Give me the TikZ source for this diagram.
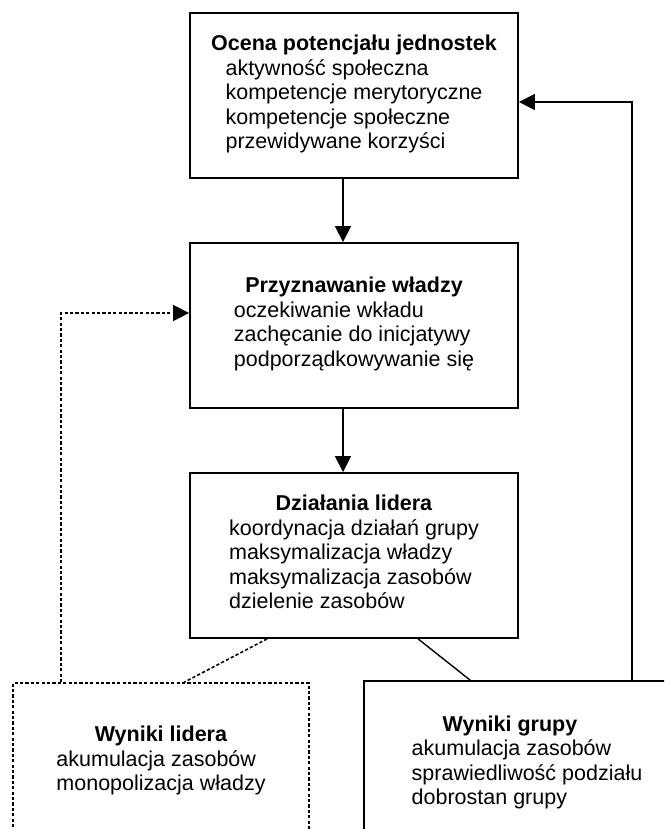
\documentclass[tikz,border=0pt]{standalone}
\usepackage{fontspec}
\setmainfont{Liberation Sans}
\usetikzlibrary{arrows.meta,calc}

\begin{document}
\begin{tikzpicture}[x=0.5pt,y=-0.5pt,
		box/.style={draw, line width=0.9pt, rectangle, inner sep=0pt, align=center,
			font=\fontsize{10.75}{12.25}\selectfont},
		arr/.style={line width=0.7pt, -{Triangle[length=8pt,width=8pt]}},
		dots/.style={line width=0.8pt, dash pattern=on 1.6pt off 1.1pt}]

		\useasboundingbox (0,0) rectangle (664,829);
		\clip (0,0) rectangle (664,829);

		% boxes
		\node[box, minimum width=164pt, minimum height=82.5pt] (ocena) at (354,95.5)
			{\textbf{Ocena potencjału jednostek}\\ \begin{tabular}[t]{@{}l@{}}aktywność społeczna\\ kompetencje merytoryczne\\ kompetencje społeczne\\ przewidywane korzyści\end{tabular}};
		\node[box, minimum width=164pt, minimum height=82.5pt] (przyznawanie) at (354,325.5)
			{\textbf{Przyznawanie władzy}\\ \begin{tabular}[t]{@{}l@{}}oczekiwanie wkładu\\ zachęcanie do inicjatywy\\ podporządkowywanie się\end{tabular}};
		\node[box, minimum width=164pt, minimum height=82.5pt] (dzialania) at (354,555.5)
			{\textbf{Działania lidera}\\ \begin{tabular}[t]{@{}l@{}}koordynacja działań grupy\\ maksymalizacja władzy\\ maksymalizacja zasobów\\ dzielenie zasobów\end{tabular}};
		\node[box, dots, minimum width=148pt, minimum height=79pt] (lidera) at (161,762)
			{\textbf{Wyniki lidera}\\ \begin{tabular}[t]{@{}l@{}}akumulacja zasobów\\ monopolizacja władzy\end{tabular}};
		\node[box, minimum width=163pt, minimum height=83pt] (grupy) at (527,764)
			{\textbf{Wyniki grupy}\hspace*{17pt}\\ \begin{tabular}[t]{@{}l@{}}akumulacja zasobów\\ sprawiedliwość podziału\\ dobrostan grupy\end{tabular}};

		% arrows between the main boxes
		\draw[arr] ([xshift=-5.5pt]ocena.south) -- ([xshift=-5.5pt]przyznawanie.north);
		\draw[arr] ([xshift=-5.5pt]przyznawanie.south) -- ([xshift=-5.5pt]dzialania.north);

		% results
		\draw[dots] ($(dzialania.south west)+(78,0)$) -- ($(lidera.north west)+(172,0)$);
		\draw[line width=0.7pt] ($(dzialania.south west)+(229,0)$) -- ($(grupy.north west)+(107,0)$);

		% feedback
		\draw[arr] ($(grupy.north west)+(269,0)$) |- ($(ocena.east)+(0,6.5)$);
		\draw[arr, dots] ($(lidera.north west)+(49,0)$) |- ($(przyznawanie.west)+(0,-12.5)$);
\end{tikzpicture}
\end{document}
